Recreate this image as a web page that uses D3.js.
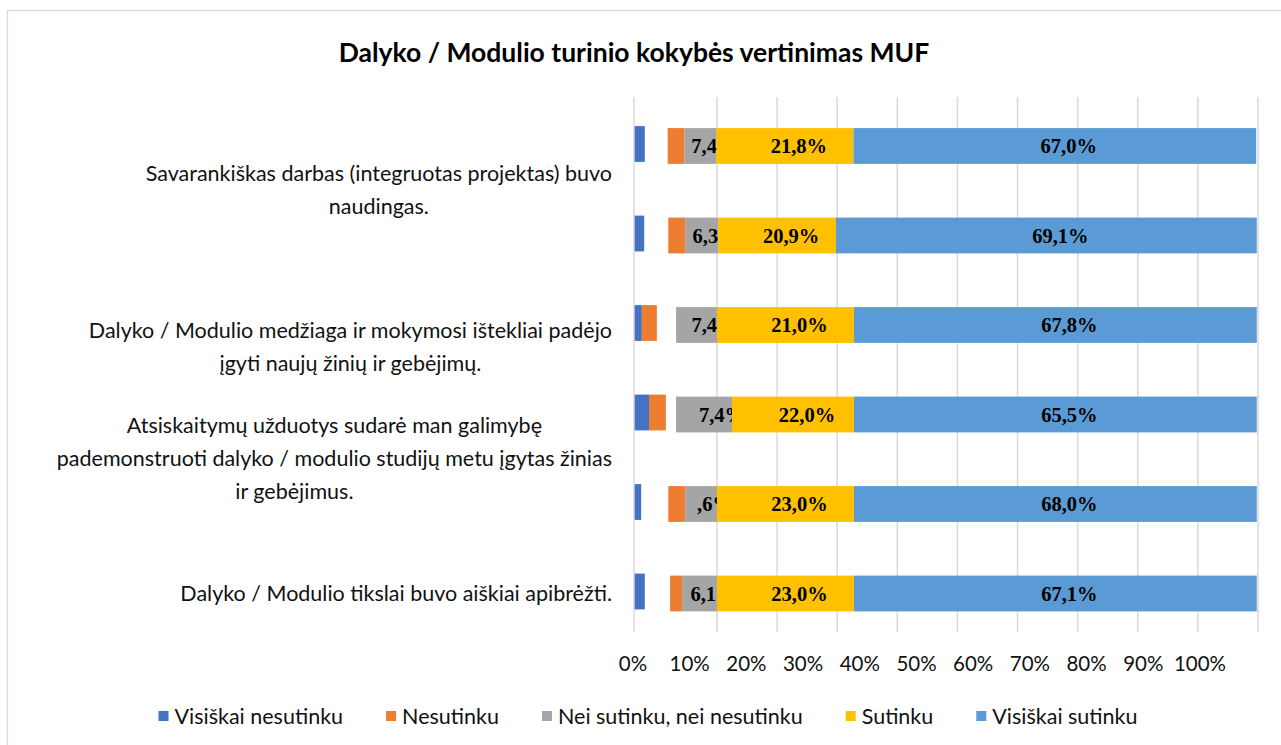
<!DOCTYPE html>
<html>
<head>
<meta charset="utf-8">
<script src="https://cdn.jsdelivr.net/npm/d3@7/dist/d3.min.js"></script>
<style>
    body { margin: 0; background: #fff; }
    svg text { font-family: Lato, "Open Sans", sans-serif; }
</style>
</head>
<body>
<div id="chart"></div>
<script>
// series (legend order)
var seriesNames = ['Visiškai nesutinku', 'Nesutinku', 'Nei sutinku, nei nesutinku', 'Sutinku', 'Visiškai sutinku'];
var seriesColors = ['#4472C4', '#ED7D31', '#A5A5A5', '#FFC000', '#5B9BD5'];

// six bars, top to bottom; segment lengths in % as drawn
var visiskaiNesutinku = [1.8, 1.7, 1.3, 2.5, 1.2, 1.8];
var gapAfterBlue      = [3.8, 4.0, 0.0, 0.0, 4.5, 4.2];
var nesutinku         = [2.8, 2.8, 2.5, 2.8, 2.8, 2.0];
var gapAfterOrange    = [0.0, 0.0, 3.2, 1.7, 0.0, 0.0];
var neiSutinku        = [5.3, 5.5, 6.8, 9.3, 5.3, 5.8];
var sutinku           = [22.8, 19.6, 22.8, 20.3, 22.8, 22.8];
var visiskaiSutinku   = [67.0, 70.0, 67.0, 67.0, 67.0, 67.0];

// data labels as printed on the bars
var neiSutinkuLabels      = ['7,4%', '6,3%', '7,4%', '7,4%', ',6%', '6,1%'];
var sutinkuLabels         = ['21,8%', '20,9%', '21,0%', '22,0%', '23,0%', '23,0%'];
var visiskaiSutinkuLabels = ['67,0%', '69,1%', '67,8%', '65,5%', '68,0%', '67,1%'];

// category labels and the bar slot (index) they sit at
var categoryLabels = [
    ['Savarankiškas darbas (integruotas projektas) buvo', 'naudingas.'],
    ['Dalyko / Modulio medžiaga ir mokymosi ištekliai padėjo', 'įgyti naujų žinių ir gebėjimų.'],
    ['Atsiskaitymų užduotys sudarė man galimybę', 'pademonstruoti dalyko / modulio studijų metu įgytas žinias', 'ir gebėjimus.'],
    ['Dalyko / Modulio tikslai buvo aiškiai apibrėžti.']
];
var categoryLabelAt = [0.5, 2.25, 3.5, 5];

var gridValues = [10, 20, 30, 40, 50, 60, 70, 80, 90, 100];
var tickValues = [0, 10, 20, 30, 40, 50, 60, 70, 80, 90, 100];
var tickLabels = ['0%', '10%', '20%', '30%', '40%', '50%', '60%', '70%', '80%', '90%', '100%'];

var chartTitle = 'Dalyko / Modulio turinio kokybės vertinimas MUF';

var W = 1281, H = 745;
var plotTop = 97, plotBottom = 632;
var barBase = -3.8;

var svg = d3.select('#chart').append('svg')
    .attr('width', W)
    .attr('height', H);

svg.append('rect')
    .attr('x', 7.5).attr('y', 10.5)
    .attr('width', 1300).attr('height', 800)
    .attr('fill', '#fff')
    .attr('stroke', '#d9d9d9')
    .attr('stroke-width', 1.2);

svg.append('text')
    .attr('x', 634).attr('y', 62)
    .attr('text-anchor', 'middle')
    .attr('font-size', 26.5)
    .attr('font-weight', 'bold')
    .attr('fill', '#000')
    .text(chartTitle);

var xScale = d3.scaleLinear().domain([barBase, 100]).range([634, 1258]);
var tickScale = d3.scaleLinear().domain([0, 100]).range([633, 1200]);
var yScale = d3.scaleBand().domain(d3.range(6)).range([101.25, 638.25])
    .paddingInner(0.6).paddingOuter(0.3);

// gridlines
svg.append('g').selectAll('line')
    .data(gridValues)
    .enter().append('line')
    .attr('x1', function (d) { return xScale(d); })
    .attr('x2', function (d) { return xScale(d); })
    .attr('y1', plotTop).attr('y2', plotBottom)
    .attr('stroke', '#d9d9d9')
    .attr('stroke-width', 1.5);

// build segments
var segments = [];
var defs = svg.append('defs');
d3.range(6).forEach(function (i) {
    var parts = [
        { s: 0, v: visiskaiNesutinku[i], gap: 0 },
        { s: 1, v: nesutinku[i], gap: gapAfterBlue[i] },
        { s: 2, v: neiSutinku[i], gap: gapAfterOrange[i], label: neiSutinkuLabels[i] },
        { s: 3, v: sutinku[i], gap: 0, label: sutinkuLabels[i] },
        { s: 4, v: visiskaiSutinku[i], gap: 0, label: visiskaiSutinkuLabels[i] }
    ];
    var pos = barBase;
    parts.forEach(function (p) {
        pos += p.gap;
        p.x0 = pos;
        p.x1 = pos + p.v;
        p.row = i;
        // the small left pieces sit slightly higher in the original
        p.dy = (p.s === 0 || (p.s === 1 && gapAfterBlue[i] === 0)) ? -2 : 0;
        pos = p.x1;
        segments.push(p);
    });
});

var bars = svg.append('g');
bars.selectAll('rect')
    .data(segments)
    .enter().append('rect')
    .attr('x', function (d) { return xScale(d.x0); })
    .attr('width', function (d) { return xScale(d.x1) - xScale(d.x0); })
    .attr('y', function (d) { return yScale(d.row) + d.dy; })
    .attr('height', yScale.bandwidth())
    .attr('fill', function (d) { return seriesColors[d.s]; });

// axis line at the base
svg.append('line')
    .attr('x1', xScale(barBase)).attr('x2', xScale(barBase))
    .attr('y1', plotTop).attr('y2', plotBottom)
    .attr('stroke', '#d9d9d9')
    .attr('stroke-width', 1.5);

// data labels, clipped to their own segment
var labelled = segments.filter(function (d) { return d.label; });
labelled.forEach(function (d, k) {
    d.clipId = 'clip' + k;
    defs.append('clipPath').attr('id', d.clipId)
        .append('rect')
        .attr('x', xScale(d.x0))
        .attr('width', xScale(d.x1) - xScale(d.x0))
        .attr('y', yScale(d.row))
        .attr('height', yScale.bandwidth());
});

svg.append('g').selectAll('text')
    .data(labelled)
    .enter().append('text')
    .attr('clip-path', function (d) { return 'url(#' + d.clipId + ')'; })
    .attr('x', function (d) {
        var off = (d.s === 2 && d.gap > 0) ? 18 : 14;
        return (xScale(d.x0) + xScale(d.x1)) / 2 + off;
    })
    .attr('y', function (d) { return yScale(d.row) + yScale.bandwidth() / 2 + 7; })
    .attr('text-anchor', 'middle')
    .style('font-family', '"Liberation Serif", "Times New Roman", serif')
    .attr('font-size', 20.5)
    .attr('font-weight', 'bold')
    .attr('fill', '#000')
    .text(function (d) { return d.label; });

// category labels (lines centred, block right-aligned to the plot)
var catG = svg.append('g');
categoryLabels.forEach(function (lines, i) {
    var cy = yScale(0) + yScale.bandwidth() / 2 + categoryLabelAt[i] * yScale.step();
    var lineH = 33;
    var t0 = cy - (lines.length - 1) * lineH / 2;
    var texts = catG.append('g').selectAll('text')
        .data(lines)
        .enter().append('text')
        .attr('y', function (d, j) { return t0 + j * lineH + 7; })
        .attr('text-anchor', 'middle')
        .attr('font-size', 21.5)
        .attr('fill', '#111')
        .text(function (d) { return d; });
    var maxW = 0;
    texts.each(function () { maxW = Math.max(maxW, this.getComputedTextLength()); });
    texts.attr('x', 612 - maxW / 2);
    // last line of the third label sits left of centre in the original
    if (lines.length === 3) {
        texts.filter(function (d, j) { return j === 2; }).attr('dx', -40);
    }
});

// tick labels
svg.append('g').selectAll('text')
    .data(tickValues)
    .enter().append('text')
    .attr('x', function (d) { return tickScale(d); })
    .attr('y', 671)
    .attr('text-anchor', 'middle')
    .attr('font-size', 20.5)
    .attr('fill', '#111')
    .text(function (d, i) { return tickLabels[i]; });

// legend
var legend = svg.append('g');
var items = legend.selectAll('g')
    .data(seriesNames)
    .enter().append('g');
items.append('rect')
    .attr('width', 10).attr('height', 10)
    .attr('y', 711)
    .attr('fill', function (d, i) { return seriesColors[i]; });
items.append('text')
    .attr('x', 16)
    .attr('y', 723.5)
    .attr('font-size', 21.5)
    .attr('fill', '#111')
    .text(function (d) { return d; });

var widths = [];
items.select('text').each(function () { widths.push(16 + this.getComputedTextLength()); });
var gap = 43;
var total = d3.sum(widths) + gap * (widths.length - 1);
var lx = 648 - total / 2;
items.attr('transform', function (d, i) {
    var t = 'translate(' + lx + ',0)';
    lx += widths[i] + gap;
    return t;
});
</script>
</body>
</html>
